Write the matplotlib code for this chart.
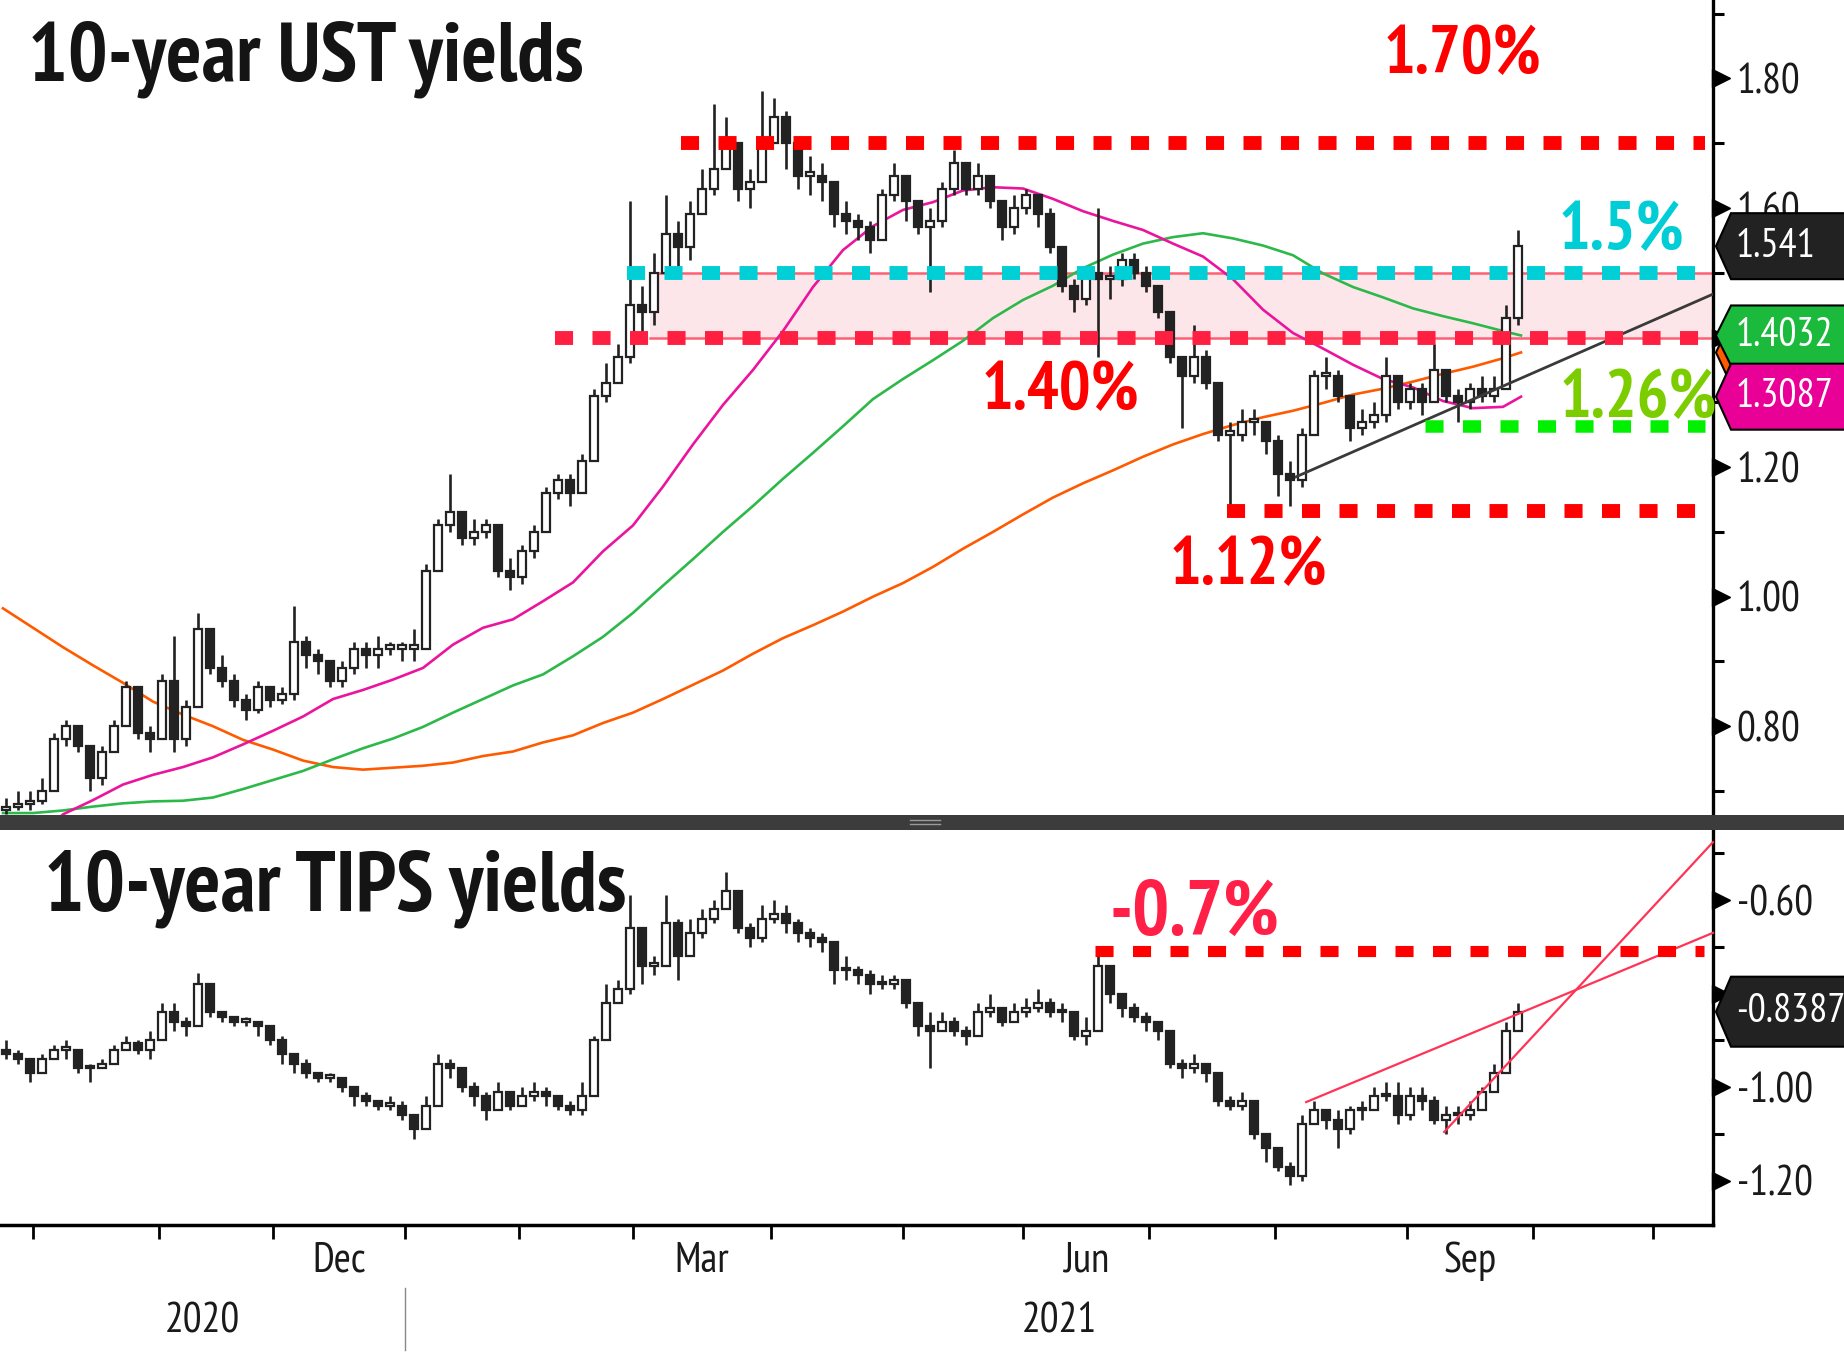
import os
import numpy as np
import pandas as pd
import matplotlib
matplotlib.use('Agg')
import matplotlib.pyplot as plt
import matplotlib.transforms as mtransforms
from matplotlib.patches import Polygon, Rectangle
from matplotlib.lines import Line2D
from matplotlib import font_manager
from matplotlib.font_manager import FontProperties
from pandas.tseries.holiday import USFederalHolidayCalendar
from pandas.tseries.offsets import CustomBusinessDay

# narrow font like the terminal uses, falling back to Liberation Sans
_files = {os.path.basename(f.fname): f.fname for f in font_manager.fontManager.ttflist}


def _pick(prefs):
    for p in prefs:
        if p in _files:
            return _files[p]
    return None


REG_FILE = _pick(['PT_Sans-Narrow-Web-Regular.ttf', 'PTSansNarrow-Regular.ttf',
                  'PragatiNarrow-Regular.ttf', 'BarlowCondensed-Regular.ttf'])
BOLD_FILE = _pick(['PT_Sans-Narrow-Web-Bold.ttf', 'PTSansNarrow-Bold.ttf',
                   'PragatiNarrow-Bold.ttf', 'BarlowCondensed-Bold.ttf'])


def fp(size, bold=False):
    f = BOLD_FILE if bold else REG_FILE
    if f:
        return FontProperties(fname=f, size=size)
    return FontProperties(family=['Liberation Sans', 'DejaVu Sans'],
                          weight='bold' if bold else 'normal', size=size)


plt.rcParams['lines.scale_dashes'] = False
INK = '#222222'

# trading days shown on the x axis (one slot per session)
days = pd.date_range('2020-09-24', '2021-12-31',
                     freq=CustomBusinessDay(calendar=USFederalHolidayCalendar()))

# 10y UST yield, one candle per two sessions (24 Sep 2020 .. 28 Sep 2021)
ust_open0 = 0.67
ust_close = [0.675, 0.68, 0.685, 0.70, 0.78, 0.80, 0.77, 0.72, 0.76, 0.80,
             0.86, 0.79, 0.78, 0.87, 0.78, 0.83, 0.95, 0.89, 0.87, 0.84,
             0.825, 0.86, 0.84, 0.85, 0.93, 0.91, 0.90, 0.87, 0.89, 0.92,
             0.91, 0.92, 0.92, 0.92, 0.92, 1.04, 1.11, 1.13, 1.09, 1.10,
             1.11, 1.04, 1.03, 1.07, 1.10, 1.16, 1.18, 1.16, 1.21, 1.31,
             1.33, 1.37, 1.45, 1.44, 1.50, 1.56, 1.54, 1.59, 1.63, 1.66,
             1.70, 1.63, 1.64, 1.70, 1.74, 1.70, 1.65, 1.65, 1.64, 1.59,
             1.58, 1.57, 1.55, 1.62, 1.65, 1.61, 1.57, 1.58, 1.63, 1.67,
             1.63, 1.65, 1.61, 1.57, 1.60, 1.62, 1.59, 1.54, 1.48, 1.46,
             1.50, 1.49, 1.49, 1.52, 1.50, 1.48, 1.44, 1.37, 1.34, 1.37,
             1.33, 1.25, 1.25, 1.27, 1.27, 1.24, 1.19, 1.18, 1.25, 1.34,
             1.34, 1.31, 1.26, 1.27, 1.28, 1.34, 1.30, 1.32, 1.30, 1.35,
             1.31, 1.30, 1.32, 1.31, 1.32, 1.43, 1.541]
ust_high = [0.69, 0.70, 0.70, 0.72, 0.79, 0.81, 0.80, 0.76, 0.77, 0.81,
            0.87, 0.86, 0.80, 0.88, 0.94, 0.84, 0.975, 0.95, 0.91, 0.88,
            0.85, 0.87, 0.86, 0.86, 0.985, 0.94, 0.92, 0.90, 0.90, 0.93,
            0.93, 0.94, 0.93, 0.93, 0.95, 1.05, 1.12, 1.19, 1.13, 1.12,
            1.12, 1.11, 1.06, 1.08, 1.11, 1.17, 1.19, 1.19, 1.22, 1.32,
            1.36, 1.39, 1.61, 1.48, 1.53, 1.62, 1.58, 1.61, 1.66, 1.76,
            1.74, 1.69, 1.66, 1.78, 1.77, 1.75, 1.69, 1.68, 1.67, 1.64,
            1.61, 1.59, 1.58, 1.63, 1.67, 1.65, 1.60, 1.60, 1.64, 1.69,
            1.67, 1.67, 1.65, 1.61, 1.62, 1.63, 1.62, 1.60, 1.54, 1.49,
            1.51, 1.60, 1.51, 1.53, 1.53, 1.51, 1.48, 1.44, 1.37, 1.42,
            1.38, 1.33, 1.27, 1.29, 1.29, 1.27, 1.25, 1.21, 1.26, 1.35,
            1.37, 1.35, 1.31, 1.29, 1.30, 1.37, 1.34, 1.33, 1.33, 1.39,
            1.35, 1.32, 1.33, 1.34, 1.34, 1.45, 1.566]
ust_low = [0.665, 0.67, 0.67, 0.68, 0.70, 0.77, 0.76, 0.70, 0.71, 0.76,
           0.80, 0.78, 0.76, 0.78, 0.76, 0.77, 0.83, 0.88, 0.86, 0.83,
           0.81, 0.82, 0.83, 0.835, 0.84, 0.89, 0.88, 0.86, 0.86, 0.88,
           0.89, 0.89, 0.91, 0.90, 0.90, 0.92, 1.04, 1.10, 1.08, 1.08,
           1.09, 1.03, 1.01, 1.02, 1.06, 1.10, 1.15, 1.14, 1.16, 1.21,
           1.30, 1.33, 1.36, 1.40, 1.42, 1.50, 1.51, 1.52, 1.59, 1.62,
           1.67, 1.61, 1.60, 1.66, 1.70, 1.66, 1.63, 1.62, 1.61, 1.57,
           1.56, 1.55, 1.53, 1.55, 1.61, 1.58, 1.56, 1.47, 1.57, 1.62,
           1.62, 1.62, 1.60, 1.55, 1.56, 1.59, 1.57, 1.53, 1.47, 1.44,
           1.45, 1.37, 1.46, 1.48, 1.49, 1.47, 1.43, 1.36, 1.26, 1.33,
           1.32, 1.24, 1.13, 1.24, 1.25, 1.22, 1.155, 1.14, 1.17, 1.25,
           1.32, 1.30, 1.24, 1.25, 1.26, 1.27, 1.29, 1.29, 1.28, 1.30,
           1.30, 1.27, 1.29, 1.30, 1.30, 1.32, 1.42]

# moving averages read every 5 sessions (last point = 28 Sep 2021)
ma_day = list(range(0, 251, 5)) + [253]
ma50 = [0.58, 0.62, 0.664, 0.686, 0.71, 0.725, 0.737, 0.752, 0.772, 0.793,
        0.815, 0.842, 0.856, 0.872, 0.89, 0.926, 0.952, 0.965, 0.993, 1.022,
        1.07, 1.11, 1.17, 1.235, 1.296, 1.35, 1.41, 1.478, 1.535, 1.572,
        1.597, 1.609, 1.627, 1.632, 1.63, 1.614, 1.595, 1.58, 1.566, 1.545,
        1.525, 1.49, 1.443, 1.407, 1.383, 1.358, 1.336, 1.323, 1.302, 1.291,
        1.293, 1.3087]
ma100 = [0.666, 0.666, 0.670, 0.676, 0.681, 0.684, 0.685, 0.690, 0.703, 0.717,
         0.731, 0.749, 0.766, 0.781, 0.799, 0.821, 0.842, 0.863, 0.880, 0.908,
         0.938, 0.975, 1.017, 1.058, 1.10, 1.14, 1.182, 1.222, 1.263, 1.305,
         1.336, 1.365, 1.395, 1.43, 1.458, 1.48, 1.507, 1.528, 1.545, 1.555,
         1.561, 1.553, 1.542, 1.527, 1.499, 1.478, 1.462, 1.445, 1.433, 1.422,
         1.41, 1.4032]
ma200 = [0.982, 0.952, 0.922, 0.894, 0.867, 0.838, 0.818, 0.80, 0.779, 0.764,
         0.747, 0.737, 0.733, 0.736, 0.739, 0.744, 0.754, 0.761, 0.775, 0.786,
         0.805, 0.821, 0.842, 0.864, 0.886, 0.912, 0.936, 0.956, 0.977, 1.00,
         1.021, 1.046, 1.074, 1.10, 1.127, 1.153, 1.175, 1.195, 1.216, 1.235,
         1.251, 1.265, 1.277, 1.287, 1.299, 1.312, 1.321, 1.332, 1.344, 1.355,
         1.368, 1.377]

# 10y TIPS real yield, same sessions
tips_open0 = -0.92
tips_close = [-0.93, -0.94, -0.97, -0.94, -0.92, -0.92, -0.96, -0.96, -0.95, -0.92,
              -0.905, -0.92, -0.90, -0.84, -0.86, -0.87, -0.78, -0.84, -0.85, -0.86,
              -0.86, -0.87, -0.90, -0.93, -0.95, -0.97, -0.98, -0.98, -1.00, -1.02,
              -1.03, -1.04, -1.04, -1.06, -1.09, -1.04, -0.95, -0.96, -1.00, -1.02,
              -1.05, -1.01, -1.04, -1.02, -1.01, -1.02, -1.04, -1.05, -1.02, -0.90,
              -0.82, -0.79, -0.66, -0.74, -0.74, -0.65, -0.72, -0.67, -0.64, -0.62,
              -0.58, -0.66, -0.68, -0.64, -0.63, -0.65, -0.67, -0.68, -0.69, -0.75,
              -0.75, -0.76, -0.78, -0.78, -0.77, -0.82, -0.87, -0.88, -0.86, -0.88,
              -0.89, -0.84, -0.83, -0.86, -0.84, -0.83, -0.82, -0.84, -0.84, -0.89,
              -0.88, -0.74, -0.80, -0.83, -0.85, -0.86, -0.88, -0.95, -0.96, -0.95,
              -0.97, -1.03, -1.04, -1.03, -1.10, -1.13, -1.17, -1.19, -1.08, -1.05,
              -1.07, -1.09, -1.05, -1.05, -1.02, -1.02, -1.06, -1.02, -1.03, -1.07,
              -1.06, -1.06, -1.05, -1.01, -0.97, -0.88, -0.8387]
tips_high = [-0.90, -0.92, -0.94, -0.93, -0.91, -0.90, -0.92, -0.95, -0.94, -0.91,
             -0.89, -0.90, -0.88, -0.82, -0.82, -0.85, -0.755, -0.80, -0.84, -0.85,
             -0.85, -0.86, -0.87, -0.89, -0.93, -0.94, -0.97, -0.97, -0.98, -1.00,
             -1.01, -1.03, -1.02, -1.03, -1.07, -1.02, -0.93, -0.94, -0.96, -0.99,
             -1.01, -0.99, -1.02, -1.00, -0.99, -1.00, -1.02, -1.03, -0.99, -0.89,
             -0.78, -0.77, -0.59, -0.66, -0.72, -0.59, -0.64, -0.64, -0.62, -0.60,
             -0.54, -0.58, -0.65, -0.61, -0.60, -0.61, -0.64, -0.66, -0.67, -0.69,
             -0.72, -0.74, -0.75, -0.76, -0.76, -0.78, -0.82, -0.84, -0.84, -0.85,
             -0.87, -0.82, -0.80, -0.83, -0.82, -0.81, -0.79, -0.81, -0.82, -0.84,
             -0.85, -0.71, -0.74, -0.80, -0.82, -0.84, -0.86, -0.88, -0.94, -0.93,
             -0.95, -0.97, -1.02, -1.01, -1.03, -1.10, -1.14, -1.16, -1.06, -1.03,
             -1.05, -1.05, -1.04, -1.03, -1.00, -0.99, -0.99, -1.00, -1.00, -1.02,
             -1.04, -1.04, -1.03, -1.00, -0.95, -0.86, -0.82]
tips_low = [-0.94, -0.95, -0.99, -0.97, -0.94, -0.94, -0.97, -0.99, -0.96, -0.95,
            -0.92, -0.93, -0.94, -0.89, -0.88, -0.89, -0.86, -0.85, -0.86, -0.87,
            -0.87, -0.89, -0.91, -0.95, -0.97, -0.98, -0.99, -0.99, -1.01, -1.04,
            -1.04, -1.05, -1.05, -1.07, -1.11, -1.07, -1.03, -0.98, -1.01, -1.04,
            -1.07, -1.05, -1.05, -1.04, -1.03, -1.04, -1.05, -1.06, -1.06, -1.02,
            -0.90, -0.82, -0.80, -0.78, -0.76, -0.74, -0.77, -0.72, -0.68, -0.65,
            -0.62, -0.67, -0.70, -0.69, -0.65, -0.67, -0.69, -0.70, -0.71, -0.78,
            -0.77, -0.78, -0.80, -0.79, -0.79, -0.83, -0.89, -0.96, -0.88, -0.89,
            -0.91, -0.89, -0.85, -0.87, -0.86, -0.85, -0.84, -0.85, -0.86, -0.90,
            -0.91, -0.88, -0.82, -0.85, -0.86, -0.88, -0.90, -0.96, -0.98, -0.97,
            -0.99, -1.04, -1.05, -1.05, -1.11, -1.16, -1.18, -1.21, -1.20, -1.08,
            -1.09, -1.13, -1.10, -1.07, -1.05, -1.03, -1.08, -1.07, -1.05, -1.08,
            -1.10, -1.08, -1.07, -1.05, -1.01, -0.97, -0.88]

# annotation levels / trend lines
ust_levels = [1.70, 1.50, 1.40, 1.264, 1.133]
ust_level_labels = ['1.70%', '1.5%', '1.40%', '1.26%', '1.12%']
tips_level = -0.709
ust_trend_day, ust_trend_val = [215.5, 285], [1.185, 1.467]
tips_trend1_day, tips_trend1_val = [217.2, 285], [-1.032, -0.67]
tips_trend2_day, tips_trend2_val = [240.2, 285], [-1.096, -0.476]

W, H = 1844, 1356
fig = plt.figure(figsize=(W / 100, H / 100), dpi=100)
ax1 = fig.add_axes([0, 1 - 815 / H, 1713 / W, 815 / H])
ax2 = fig.add_axes([0, 1 - 1225 / H, 1713 / W, 395 / H])
for ax in (ax1, ax2):
    ax.set_xlim(-0.5, 285)
    for s in ('left', 'top'):
        ax.spines[s].set_visible(False)
    ax.spines['right'].set_linewidth(2.4)
    ax.spines['right'].set_color('black')
ax1.spines['bottom'].set_visible(False)
ax2.spines['bottom'].set_linewidth(2.5)
ax1.set_ylim(0.663, 1.921)
ax2.set_ylim(-1.295, -0.45)


def candles(ax, open0, close, high, low):
    close = np.array(close); high = np.array(high); low = np.array(low)
    opn = np.r_[open0, close[:-1]]
    x = np.arange(len(close)) * 2 + 0.5
    top = np.maximum(high, np.maximum(opn, close))
    bot = np.minimum(low, np.minimum(opn, close))
    ax.vlines(x, bot, top, color=INK, lw=1.9, zorder=4)
    up = close >= opn
    body = np.maximum(np.abs(close - opn), 0.005)
    ax.bar(x, body, bottom=np.minimum(opn, close), width=1.3,
           color=np.where(up, 'white', INK), edgecolor=INK, lw=1.6, zorder=5)


def dotted(ax, y, x0, x1, color, lw):
    ax.plot([x0, x1], [y, y], color=color, lw=lw, dashes=(13, 14),
            dash_capstyle='butt', zorder=6)


# ---- top panel
ax1.fill_between([107.8, 285], 1.40, 1.50, color='#fde6ea', lw=0, zorder=1)
ax1.plot([107.8, 285], [1.50, 1.50], color='#ff5f73', lw=1.8, zorder=2)
ax1.plot([107.8, 285], [1.40, 1.40], color='#ff5f73', lw=1.8, zorder=2)
ax1.plot(ma_day, ma200, color='#ff5a00', lw=1.9, zorder=3)
ax1.plot(ma_day, ma100, color='#2db84a', lw=1.9, zorder=3)
ax1.plot(ma_day, ma50, color='#ea159c', lw=1.9, zorder=3)
candles(ax1, ust_open0, ust_close, ust_high, ust_low)
ax1.plot(ust_trend_day, ust_trend_val, color='#3a3a3a', lw=2, zorder=6)

lvl_x = [(113, 283.7), (104, 285), (92, 285), (237, 283.7), (204, 285)]
lvl_c = ['#ff0000', '#00cfd6', '#ff1f40', '#00f000', '#ff0000']
lvl_w = [10, 10, 10, 9, 10]
for v, (x0, x1), c, w in zip(ust_levels, lvl_x, lvl_c, lvl_w):
    dotted(ax1, v, x0, x1, c, w)

lab_pos = [(243.2, 1.834), (269.8, 1.563), (176.3, 1.316), (272.5, 1.303), (207.5, 1.046)]
lab_c = ['#ff0000', '#00cdd5', '#ff0000', '#7ccd00', '#ff0000']
for t, (x, y), c in zip(ust_level_labels, lab_pos, lab_c):
    ax1.text(x, y, t, color=c, fontproperties=fp(48, True), ha='center',
             va='center', zorder=7)

# ---- bottom panel
candles(ax2, tips_open0, tips_close, tips_high, tips_low)
ax2.plot(tips_trend1_day, tips_trend1_val, color='#ff3355', lw=1.6, zorder=6, clip_on=False)
ax2.plot(tips_trend2_day, tips_trend2_val, color='#ff3355', lw=1.6, zorder=6, clip_on=False)
dotted(ax2, tips_level, 182, 283.5, '#ff0000', 8)
ax2.text(198.5, -0.632, '-0.7%', color='#ff1f47', fontproperties=fp(56, True),
         ha='center', va='center', zorder=7)

# ---- y axes on the right (labels hidden under the value badges are left out)
for ax, major, shown, minor in (
        (ax1, [0.8, 1.0, 1.2, 1.4, 1.6, 1.8], [0.8, 1.0, 1.2, 1.6, 1.8],
         [0.7, 0.9, 1.1, 1.3, 1.5, 1.7, 1.9]),
        (ax2, [-1.2, -1.0, -0.8, -0.6], [-1.2, -1.0, -0.6], [-1.1, -0.9, -0.7, -0.5])):
    ax.yaxis.tick_right()
    ax.set_yticks(major)
    ax.set_yticklabels(['%.2f' % v if v in shown else '' for v in major])
    ax.set_yticks(minor, minor=True)
    ax.tick_params(axis='y', which='major', length=0, pad=17, labelcolor='#1a1a1a')
    ax.tick_params(axis='y', which='minor', length=8, width=2.2, color='black')
    for lab in ax.get_yticklabels():
        lab.set_fontproperties(fp(30))
    tr = mtransforms.offset_copy(ax.get_yaxis_transform(), fig=fig, x=8, y=0, units='dots')
    ax.plot(np.ones(len(major)), major, transform=tr, ls='none', marker='>', ms=13,
            color='black', clip_on=False, zorder=6)
ax1.set_xticks([])

# ---- x axis: month ticks, quarter labels, years
idx = np.arange(len(days))
starts = idx[1:][days.month[1:] != days.month[:-1]]
ax2.set_xticks(starts[starts <= 285])
ax2.tick_params(axis='x', which='major', length=10, width=2, labelbottom=False)
month_lab, month_pos = [], []
for i, s in enumerate(starts[:-1]):
    if days[s].month in (12, 3, 6, 9) and starts[i + 1] <= 300:
        month_pos.append((s + starts[i + 1]) / 2)
        month_lab.append(days[s].strftime('%b'))
ax2.set_xticks(month_pos, minor=True)
ax2.set_xticklabels(month_lab, minor=True)
ax2.tick_params(axis='x', which='minor', length=0, pad=12, labelcolor='#1a1a1a')
for lab in ax2.get_xticklabels(minor=True):
    lab.set_fontproperties(fp(30))
jan1 = starts[days[starts].year == 2021][0]
xt = ax2.get_xaxis_transform()
ax2.text((-0.5 + jan1) / 2, -0.2456, '2020', transform=xt, ha='center', va='center',
         fontproperties=fp(30), color='#1a1a1a')
ax2.text((jan1 + 285) / 2, -0.2456, '2021', transform=xt, ha='center', va='center',
         fontproperties=fp(30), color='#1a1a1a')
ax2.plot([jan1, jan1], [-0.16, -0.316], transform=xt, color='#888888', lw=1, clip_on=False)

# ---- titles
fig.text(28 / W, 1 - 80 / H, '10-year UST yields', fontproperties=fp(60, True),
         color='#141414', va='baseline')
fig.text(44 / W, 1 - 911 / H, '10-year TIPS yields', fontproperties=fp(61, True),
         color='#141414', va='baseline')

# ---- panel splitter
fig.add_artist(Rectangle((0, 1 - 830 / H), 1, 15 / H, transform=fig.transFigure,
                         fc='#3c3c3c', ec='none', zorder=2))
for yy in (820, 824):
    fig.add_artist(Line2D([910 / W, 940 / W], [1 - yy / H, 1 - yy / H], transform=fig.transFigure,
                          color='#9a9a9a', lw=1, zorder=3))


# ---- last-value badges
def badge(ax, v, txt, fc, h=64):
    yp = ax.transData.transform((0, v))[1]
    xs = np.array([1716, 1731, 1850, 1850, 1731])
    ys = np.array([yp, yp + h / 2, yp + h / 2, yp - h / 2, yp - h / 2])
    fig.add_artist(Polygon(np.c_[xs / W, ys / H], closed=True, transform=fig.transFigure,
                           fc=fc, ec='black', lw=1.5, zorder=5))
    if txt:
        fig.text(1736 / W, yp / H, txt, color='white', fontproperties=fp(29),
                 ha='left', va='center', zorder=6)


badge(ax1, ma200[-1], '', '#ff5a00')
badge(ax1, ma100[-1], '%.4f' % ma100[-1], '#1cba3c', h=60)
badge(ax1, ma50[-1], '%.4f' % ma50[-1], '#e90096', h=66)
badge(ax1, ust_close[-1], '%.3f' % ust_close[-1], '#222222', h=66)
badge(ax2, tips_close[-1], '%.4f' % tips_close[-1], '#222222', h=70)

fig.savefig('out.png', dpi=100, facecolor='white')
